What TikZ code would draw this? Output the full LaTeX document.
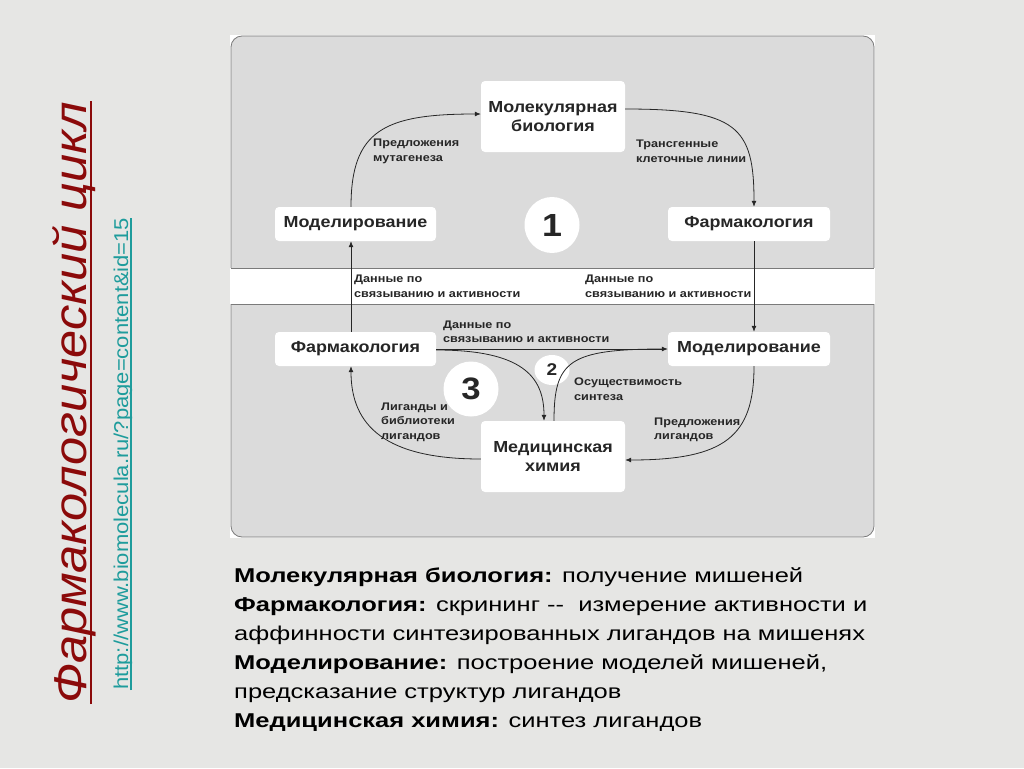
\documentclass[tikz,border=0pt]{standalone}
\usepackage{fontspec}
\setmainfont{Liberation Sans}
\newfontfamily\diagfont[FakeStretch=1.12]{Liberation Sans}
\newfontfamily\labfont[FakeStretch=1.15]{Liberation Sans}
\newfontfamily\descfont[FakeStretch=1.275]{Liberation Sans}
\newfontfamily\titlefont[FakeStretch=1.1]{Liberation Sans}
\usetikzlibrary{arrows.meta,shapes.geometric}
\definecolor{bg}{HTML}{E6E6E4}
\definecolor{panel}{HTML}{DBDBDB}
\definecolor{edge}{HTML}{7A7A7A}
\definecolor{titlered}{HTML}{8B0A0A}
\definecolor{urlteal}{HTML}{1E9C9C}
\definecolor{ink}{HTML}{262626}
\begin{document}
\begin{tikzpicture}[x=1pt,y=-1pt,
  box/.style={fill=white, rounded corners=4pt, inner sep=0pt, font=\diagfont\fontsize{16}{19}\selectfont\bfseries, text=ink, align=center},
  lab/.style={font=\labfont\fontsize{11}{14.5}\selectfont\bfseries, text=ink, align=left, anchor=west, inner sep=0pt},
  flow/.style={draw=ink, line width=0.8pt, -{Latex[length=6pt,width=5pt]}},
  link/.style={draw=ink, line width=0.8pt},
  num/.style={ellipse, fill=white, inner sep=0pt, text=ink},
  desc/.style={anchor=base west, inner sep=0pt, font=\descfont\fontsize{20}{24}\selectfont, text=black}]
\useasboundingbox (0,0) rectangle (1024,768);
\fill[bg] (0,0) rectangle (1024,768);
% diagram frame
\fill[white] (230,35) rectangle (875,538);
\draw[edge, fill=panel, line width=0.8pt, rounded corners=11pt] (231,36) rectangle (874,290);
\draw[edge, fill=panel, line width=0.8pt, rounded corners=11pt] (231,282) rectangle (874,537);
\fill[white] (230,268) rectangle (875,304);
\draw[edge, line width=0.8pt] (231,268) -- (874,268);
\draw[edge, line width=0.8pt] (231,304) -- (874,304);
% boxes
\node[box, minimum width=144pt, minimum height=71pt] (mb) at (553,116.5) {Молекулярная\\биология};
\node[box, minimum width=161pt, minimum height=34pt] (mod1) at (355.5,224) {Моделирование};
\node[box, minimum width=162pt, minimum height=34pt] (ph1) at (749,224) {Фармакология};
\node[box, minimum width=161pt, minimum height=34pt] (ph2) at (355.5,349) {Фармакология};
\node[box, minimum width=162pt, minimum height=34pt] (mod2) at (749,349) {Моделирование};
\node[box, minimum width=144pt, minimum height=71pt] (mch) at (553,456.5) {Медицинская\\химия};
% numbers
\node[num, minimum width=55pt, minimum height=56pt, font=\diagfont\fontsize{32}{34}\selectfont\bfseries] (n1) at (552,225) {1};
\node[num, minimum width=35pt, minimum height=30pt, font=\diagfont\fontsize{17}{19}\selectfont\bfseries] (n2) at (552,370) {2};
\node[num, minimum width=55pt, minimum height=55pt, font=\diagfont\fontsize{31}{34}\selectfont\bfseries] (n3) at (471,389) {3};
% connectors
\draw[flow] ([xshift=-4.5pt]mod1.north) .. controls +(0,-77) and +(-96,0) .. ([yshift=2.5pt]mb.west);
\draw[flow] ([yshift=7.5pt]mb.east) .. controls +(112,0) and +(0,-80) .. ([xshift=5pt]ph1.north);
\draw[flow] ([xshift=5pt]ph1.south) -- ([xshift=5pt]mod2.north);
\draw[flow] ([xshift=-4.5pt]ph2.north) -- ([xshift=-4.5pt]mod1.south);
\draw[flow] (ph2.east) -- (mod2.west);
\draw[flow] ([yshift=-1pt]ph2.east) .. controls +(85,0) and +(0,-45) .. ([xshift=-9pt]mch.north);
\draw[link] ([xshift=1pt]mch.north) .. controls +(0,-60) and +(-95,0) .. ([xshift=-4pt]mod2.west);
\draw[flow] ([yshift=-2.5pt]mch.west) .. controls +(-95,0) and +(0,60) .. ([xshift=-4.5pt]ph2.south);
\draw[flow] ([xshift=5pt]mod2.south) .. controls +(0,70) and +(100,0) .. ([yshift=-3.5pt]mch.east);
% labels
\node[lab] (l1) at (373,151.5) {Предложения\\мутагенеза};
\node[lab] (l2) at (636,151.5) {Трансгенные\\клеточные линии};
\node[lab] (l3) at (354,286.5) {Данные по\\связыванию и активности};
\node[lab] (l4) at (585,286.5) {Данные по\\связыванию и активности};
\node[lab] (l5) at (443,332) {Данные по\\связыванию и активности};
\node[lab] (l6) at (574,389) {Осуществимость\\синтеза};
\node[lab] (l7) at (381,422) {Лиганды и\\библиотеки\\лигандов};
\node[lab] (l8) at (654,430) {Предложения\\лигандов};
% title and url
\node[rotate=90, anchor=base west, inner sep=0pt, text=titlered, font=\titlefont\fontsize{46}{50}\selectfont\itshape] (title) at (86,704) {Фармакологический цикл};
\draw[titlered, line width=2.5pt] ([xshift=5pt]title.base west) -- ([xshift=5pt]title.base east);
\node[rotate=90, anchor=base west, inner sep=0pt, text=urlteal, font=\titlefont\fontsize{20}{24}\selectfont] (url) at (128,690) {http://www.biomolecula.ru/?page=content\&id=15};
\draw[urlteal, line width=1.2pt] ([xshift=3pt]url.base west) -- ([xshift=3pt]url.base east);
% description
\node[desc] (d1) at (234,582) {\textbf{Молекулярная биология:} получение мишеней};
\node[desc] (d2) at (234,611) {\textbf{Фармакология:} скрининг -\kern0pt-\ \ измерение активности и};
\node[desc] (d3) at (234,640) {аффинности синтезированных лигандов на мишенях};
\node[desc] (d4) at (234,669) {\textbf{Моделирование:} построение моделей мишеней,};
\node[desc] (d5) at (234,698) {предсказание структур лигандов};
\node[desc] (d6) at (234,727) {\textbf{Медицинская химия:} синтез лигандов};
\end{tikzpicture}
\end{document}
